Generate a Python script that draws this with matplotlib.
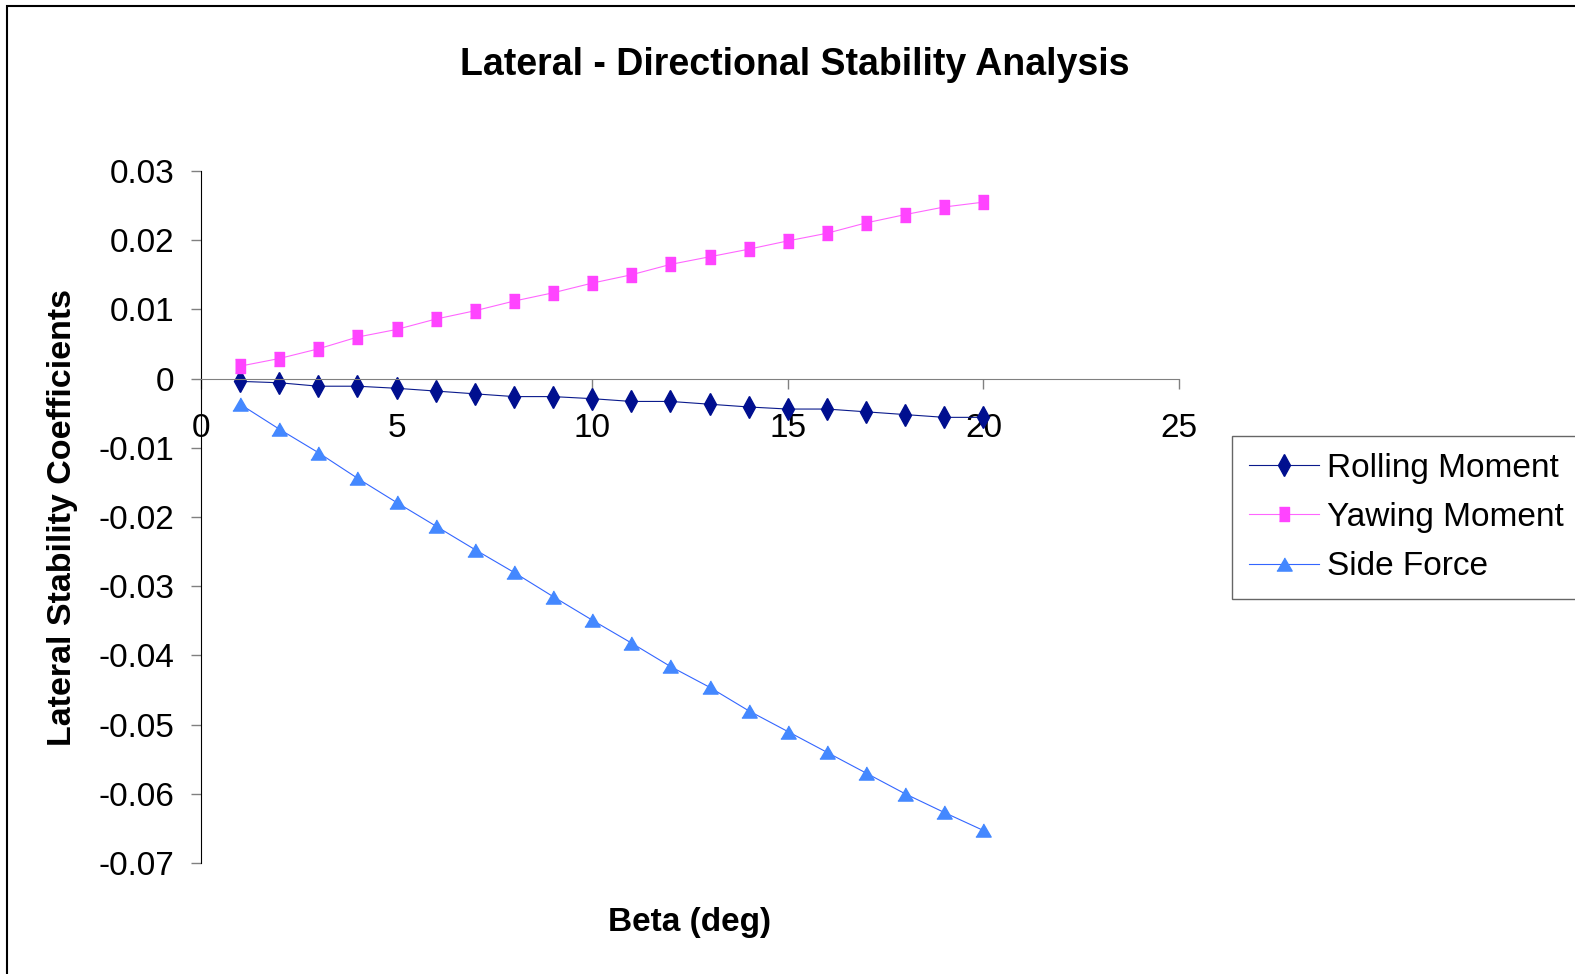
import matplotlib
matplotlib.use("Agg")
import matplotlib.pyplot as plt
from matplotlib.patches import Rectangle

plt.rcParams['font.family'] = ['Liberation Sans', 'DejaVu Sans']

beta = list(range(1, 21))
rolling = [-0.0004, -0.0006, -0.0011, -0.0011, -0.0014, -0.0018, -0.0022, -0.0026, -0.0026, -0.0029,
           -0.0033, -0.0033, -0.0037, -0.0041, -0.0044, -0.0044, -0.0048, -0.0052, -0.0056, -0.0056]
yawing = [0.0018, 0.0029, 0.0043, 0.0060, 0.0071, 0.0086, 0.0098, 0.0112, 0.0124, 0.0138,
          0.0150, 0.0165, 0.0176, 0.0187, 0.0199, 0.0210, 0.0225, 0.0237, 0.0248, 0.0255]
side = [-0.0037, -0.0073, -0.0107, -0.0144, -0.0179, -0.0213, -0.0247, -0.0280, -0.0315, -0.0349,
        -0.0382, -0.0416, -0.0446, -0.0480, -0.0510, -0.0540, -0.0570, -0.0600, -0.0627, -0.0653]
x_ticks = [0, 5, 10, 15, 20, 25]
y_ticks = [0.03, 0.02, 0.01, 0, -0.01, -0.02, -0.03, -0.04, -0.05, -0.06, -0.07]
y_labels = ["0.03", "0.02", "0.01", "0", "-0.01", "-0.02", "-0.03", "-0.04", "-0.05", "-0.06", "-0.07"]

W, H = 1575, 974
fig = plt.figure(figsize=(W / 100, H / 100), dpi=100)
ax = fig.add_axes([201 / W, 1 - 863 / H, 978 / W, 692 / H])

# tall square / diamond and wide triangle, like the Excel markers
sq = [(-0.35, -0.5), (0.35, -0.5), (0.35, 0.5), (-0.35, 0.5)]
tri = [(-0.5, -0.43), (0.5, -0.43), (0.0, 0.43)]

ax.plot(beta, rolling, color="#0A1A8C", lw=0.8, marker="d", markersize=11,
        markerfacecolor="#000F8F", markeredgecolor="#000F8F", label="Rolling Moment")
ax.plot(beta, yawing, color="#FF66FF", lw=0.8, marker=sq, markersize=9.5,
        markerfacecolor="#FF44FF", markeredgecolor="#FF44FF", label="Yawing Moment")
ax.plot(beta, side, color="#3366FF", lw=0.8, marker=tri, markersize=11,
        markerfacecolor="#4488FF", markeredgecolor="#4488FF", label="Side Force")

ax.set_xlim(0, 25)
ax.set_ylim(-0.07, 0.03)
ax.set_xticks(x_ticks)
ax.set_yticks(y_ticks)
ax.set_yticklabels(y_labels)

ax.spines['top'].set_visible(False)
ax.spines['right'].set_visible(False)
ax.spines['bottom'].set_position(('data', 0))
ax.spines['bottom'].set_color("#808080")
ax.spines['left'].set_color("black")
ax.tick_params(axis='x', direction='out', length=7, width=1, color="#808080",
               labelsize=24, pad=18)
ax.tick_params(axis='y', direction='out', length=7, width=1, color="#808080",
               labelsize=24, pad=12)

ax.set_xlabel("Beta (deg)", fontsize=24, fontweight="bold", labelpad=0)
ax.xaxis.set_label_coords(0.5, -(923 - 863) / 692)
ax.set_ylabel("Lateral Stability Coefficients", fontsize=24.5, fontweight="bold")
ax.yaxis.set_label_coords(-(201 - 62) / 978, 0.5)
ax.xaxis.label.set_va("center")
ax.yaxis.label.set_va("center")

fig.text(795 / W, 1 - 65 / H, "Lateral - Directional Stability Analysis",
         fontsize=27, fontweight="bold", ha="center", va="center")

leg = ax.legend(loc="upper left", bbox_to_anchor=(1232 / W, 1 - 436 / H),
                bbox_transform=fig.transFigure, borderaxespad=0, fontsize=24,
                frameon=True, fancybox=False, edgecolor="#404040",
                handlelength=2.1, handletextpad=0.25, labelspacing=0.55,
                borderpad=0.5)
leg.get_frame().set_linewidth(1)

# outer chart border (only left and top fall inside the image)
fig.patches.append(Rectangle((7 / W, -0.1), 1.2, 1 - 6 / H + 0.1, transform=fig.transFigure,
                             fill=False, edgecolor="black", lw=1.5, clip_on=False))

fig.savefig("out.png", dpi=100)
